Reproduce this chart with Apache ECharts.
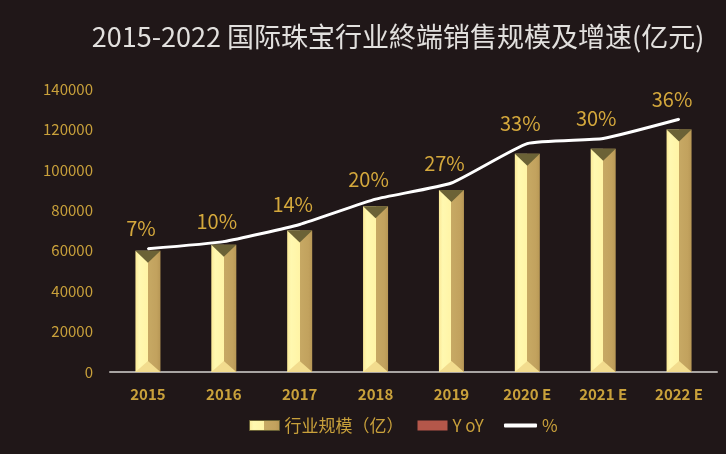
<!DOCTYPE html>
<html><head><meta charset="utf-8">
<script src="https://cdn.jsdelivr.net/npm/echarts@6/dist/echarts.min.js"></script>
<style>html,body{margin:0;padding:0;background:#201718;}#c{width:726px;height:454px;}</style>
</head><body><div id="c"></div>
<script>
var categories = ['2015','2016','2017','2018','2019','2020 E','2021 E','2022 E'];
var scaleValues = [60000, 63000, 70000, 82000, 90000, 108000, 110500, 120000];
var lineValues = [61000, 64500, 73000, 85500, 93500, 113000, 115500, 125000];
var pctLabels = ['7%','10%','14%','20%','27%','33%','30%','36%'];
var yTicks = [0,20000,40000,60000,80000,100000,120000,140000];

var gold = '#C9A13B';
var font = '"Noto Sans CJK SC", "Noto Sans", sans-serif';
var barGrad = new echarts.graphic.LinearGradient(0,0,1,0,[
  {offset:0,color:'#FBEA98'},{offset:0.15,color:'#FFF8B0'},{offset:0.5,color:'#FFF4A6'},
  {offset:0.5,color:'#C7A964'},{offset:0.85,color:'#C2A25E'},{offset:1,color:'#B89856'}]);

var chart = echarts.init(document.getElementById('c'));
chart.setOption({
  backgroundColor:'#201718',
  animation:false,
  title:{text:'2015-2022 国际珠宝行业終端销售规模及增速(亿元)',left:393,textAlign:'center',top:18,
    textStyle:{color:'#E2E0DE',fontSize:27,fontWeight:'normal',fontFamily:font}},
  grid:{left:110,right:9,top:89,bottom:82},
  legend:[
    {left:244,top:412,itemGap:14,itemWidth:30,itemHeight:10,
      textStyle:{color:gold,fontSize:17,fontFamily:font},
      data:[
        {name:'行业规模（亿）',icon:'rect',itemStyle:{color:barGrad,borderColor:'#6A6236',borderWidth:1}},
        {name:'Y oY',icon:'rect',itemStyle:{color:'#B4574A'}}
      ]},
    {left:499,top:412,itemWidth:33,itemHeight:4,
      textStyle:{color:gold,fontSize:17,fontFamily:font},
      data:[{name:'%',icon:'roundRect',itemStyle:{color:'#FFFFFF'}}]}
  ],
  xAxis:{type:'category',data:categories,
    axisLine:{lineStyle:{color:'#A8A4A2',width:2}},axisTick:{show:false},
    axisLabel:{color:gold,fontSize:15,fontWeight:'bold',fontFamily:font,margin:15}},
  yAxis:{type:'value',min:0,max:140000,interval:20000,
    splitLine:{show:false},axisLine:{show:false},axisTick:{show:false},
    axisLabel:{color:gold,fontSize:15,fontFamily:font,margin:17,
      formatter:function(v){return yTicks.indexOf(v)>=0?String(v):'';}}},
  series:[
    {name:'行业规模（亿）',type:'bar',data:scaleValues,barWidth:25,barGap:'-100%',
      itemStyle:{color:barGrad},z:2},
    {name:'Y oY',type:'bar',data:[],barWidth:25,barGap:'-100%',itemStyle:{color:'#B4574A'}},
    {name:'cap',type:'pictorialBar',data:scaleValues,symbol:'path://M0,0 L10,0 L5,5 Z',
      symbolSize:[25,12],symbolPosition:'end',symbolOffset:[0,0],
      itemStyle:{color:'#6B6236'},z:3,silent:true},
    {name:'base',type:'pictorialBar',data:scaleValues,symbol:'path://M0,5 L5,0 L10,5 Z',
      symbolSize:[25,11],symbolPosition:'start',symbolOffset:[0,0],
      itemStyle:{color:'#F2DC8E'},z:3,silent:true},
    {name:'%',type:'line',data:lineValues,symbol:'circle',symbolSize:2,showSymbol:true,smooth:0.15,
      lineStyle:{color:'#FFFFFF',width:3},itemStyle:{color:'#FFFFFF'},z:5,
      label:{show:true,position:'top',distance:9,offset:[-7,0],color:'#D4A83C',fontSize:20,fontFamily:font,
        formatter:function(p){return pctLabels[p.dataIndex];}}}
  ]
});
</script></body></html>
